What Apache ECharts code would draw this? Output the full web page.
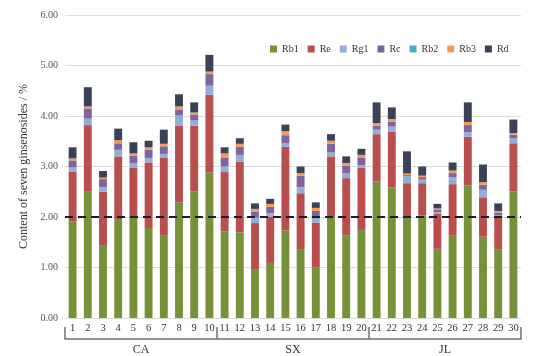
<!DOCTYPE html>
<html><head><meta charset="utf-8">
<script src="https://cdn.jsdelivr.net/npm/echarts@6/dist/echarts.min.js"></script>
<style>html,body{margin:0;padding:0;background:#fff}#c{width:549px;height:356px}</style>
</head><body><div id="c"></div>
<script>
const samples = ['1','2','3','4','5','6','7','8','9','10','11','12','13','14','15','16','17','18','19','20','21','22','23','24','25','26','27','28','29','30'];
const groups = ['CA','SX','JL'];
const yTicks = [0,1,2,3,4,5,6];
const Rb1 = [1.91,2.50,1.43,1.96,1.98,1.78,1.63,2.29,2.51,2.88, 1.71,1.70,0.97,1.09,1.73,1.35,1.00,2.00,1.64,1.76, 2.70,2.59,1.98,2.03,1.37,1.63,2.63,1.61,1.35,2.51];
const Re  = [0.99,1.32,1.07,1.24,0.99,1.30,1.54,1.52,1.30,1.54, 1.18,1.40,0.91,0.92,1.66,1.12,0.89,1.20,1.13,1.22, 0.94,1.10,0.69,0.64,0.69,1.02,0.96,0.78,0.63,0.95];
const Rg1 = [0.08,0.13,0.09,0.13,0.10,0.09,0.08,0.20,0.10,0.18, 0.11,0.13,0.11,0.07,0.07,0.12,0.10,0.08,0.10,0.05, 0.09,0.10,0.14,0.07,0.04,0.14,0.09,0.15,0.05,0.10];
const Rc  = [0.14,0.20,0.16,0.13,0.14,0.16,0.15,0.12,0.12,0.23, 0.18,0.16,0.12,0.12,0.16,0.23,0.13,0.17,0.15,0.15, 0.08,0.10,0.02,0.05,0.04,0.08,0.14,0.10,0.06,0.07];
const Rb2 = [0,0,0,0,0,0,0,0,0,0, 0,0,0,0,0,0,0,0,0,0, 0,0,0,0,0,0,0,0,0,0];
const Rb3 = [0.04,0.04,0.03,0.06,0.05,0.05,0.05,0.06,0.04,0.05, 0.08,0.06,0.05,0.06,0.08,0.05,0.06,0.06,0.05,0.05, 0.05,0.05,0.03,0.03,0.03,0.05,0.06,0.05,0.03,0.03];
const Rd  = [0.22,0.38,0.13,0.23,0.22,0.13,0.28,0.24,0.20,0.33, 0.12,0.11,0.11,0.10,0.13,0.13,0.11,0.13,0.13,0.12, 0.41,0.23,0.44,0.18,0.09,0.16,0.39,0.35,0.15,0.27];
const seriesNames = ['Rb1','Re','Rg1','Rc','Rb2','Rb3','Rd'];
const seriesData = [Rb1,Re,Rg1,Rc,Rb2,Rb3,Rd];
const colors = ['#77913b','#b84e4e','#95acd6','#7e64a0','#4bacc6','#f29a5c','#3b4157'];

const font = "'Liberation Serif','Times New Roman',serif";
const chart = echarts.init(document.getElementById('c'));
const series = seriesNames.map((n,i)=>({
  name:n, type:'bar', stack:'total', data:seriesData[i], barWidth:'52%',
  itemStyle:{color:colors[i]}, xAxisIndex:0,
  markLine: i===0 ? {silent:true, symbol:'none', label:{show:false},
    lineStyle:{color:'#1b1b2a', type:[8,5], width:2}, data:[{yAxis:2}]} : undefined
}));
chart.setOption({
  animation:false,
  color:colors,
  textStyle:{fontFamily:font},
  legend:{left:265, top:39, itemWidth:7, itemHeight:7, itemGap:9, icon:'rect',
    textStyle:{fontFamily:font, fontSize:10, color:'#333'}, data:seriesNames},
  grid:{left:65, right:28, top:15, bottom:37},
  xAxis:[
    {type:'category', data:samples, position:'bottom',
     axisLine:{show:false}, axisTick:{show:false},
     axisLabel:{fontFamily:font, fontSize:10.5, color:'#333', margin:5, interval:0}},
    {type:'category', data:groups, position:'bottom', offset:21,
     axisLine:{show:true, lineStyle:{color:'#6b6f80', width:1.5}},
     axisTick:{show:true, inside:true, length:12, lineStyle:{color:'#6b6f80', width:1.5}},
     axisLabel:{fontFamily:font, fontSize:12, color:'#333', margin:5}}
  ],
  yAxis:{type:'value', min:yTicks[0], max:yTicks[yTicks.length-1], interval:1,
    name:'Content of seven ginsenosides / %', nameLocation:'middle', nameGap:34,
    nameTextStyle:{fontFamily:font, fontSize:12, color:'#333'},
    axisLine:{show:false}, axisTick:{show:false},
    axisLabel:{fontFamily:font, fontSize:10, color:'#555', margin:7, formatter:v=>v.toFixed(2)},
    splitLine:{lineStyle:{color:'#dcdcdc'}}},
  series:series
});
</script></body></html>
